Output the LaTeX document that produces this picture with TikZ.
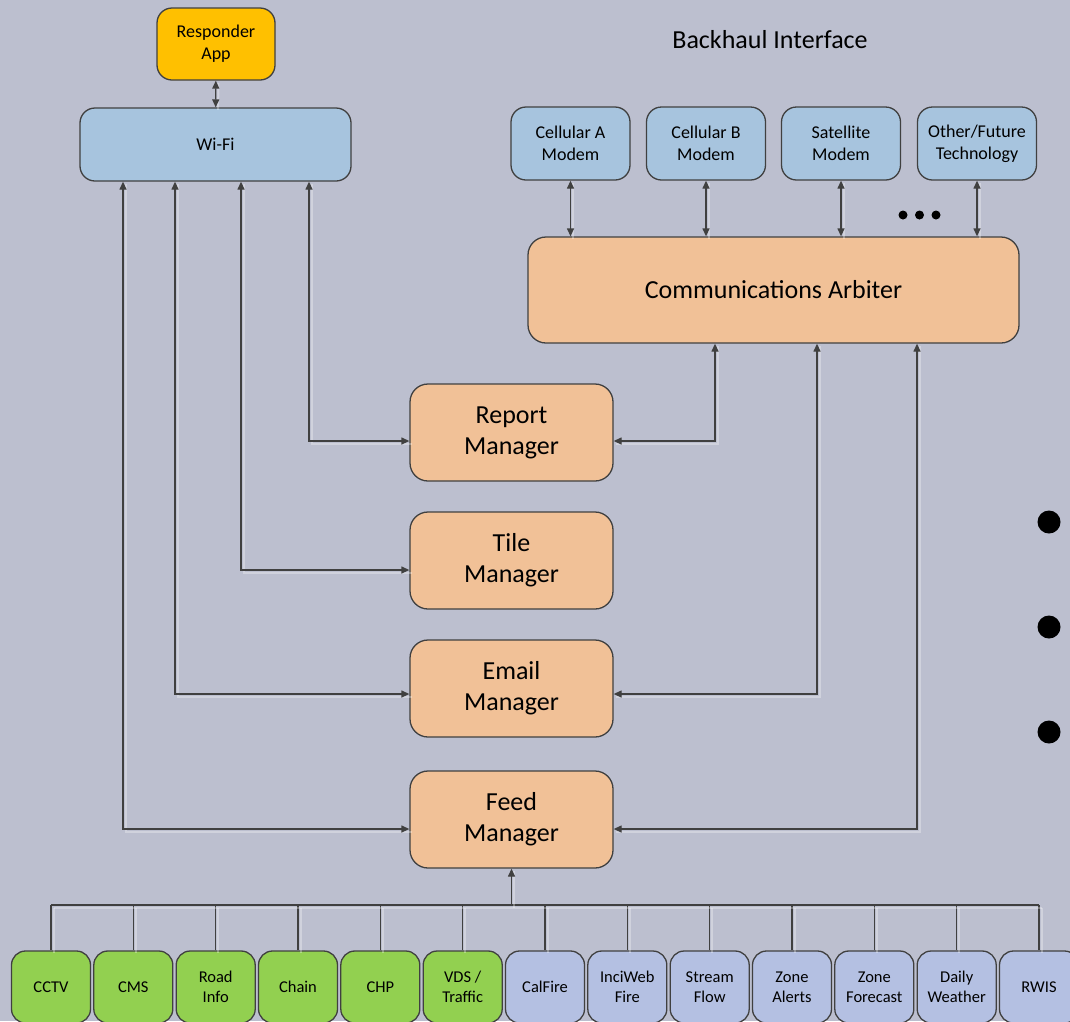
\documentclass[tikz,border=0pt]{standalone}
\usepackage{fontspec}
\setmainfont{Carlito}
\usetikzlibrary{arrows.meta}
\definecolor{bgc}{RGB}{188,191,207}
\definecolor{edgec}{RGB}{64,64,64}
\definecolor{orng}{RGB}{241,193,151}
\definecolor{blu}{RGB}{167,196,222}
\definecolor{grn}{RGB}{146,208,80}
\definecolor{lav}{RGB}{180,192,226}
\definecolor{yel}{RGB}{255,192,0}
\begin{document}
\begin{tikzpicture}[x=1pt,y=-1pt,
  box/.style={draw=edgec, line width=1.3pt, rounded corners=15pt, align=center,
    inner sep=0pt, text=black},
  small/.style={font=\fontsize{18}{22}\selectfont},
  big/.style={font=\fontsize{26}{31}\selectfont},
  tiny/.style={font=\fontsize{16.5}{19.5}\selectfont},
  modem/.style={box, small, fill=blu, minimum width=119pt, minimum height=73pt},
  mgr/.style={box, big, fill=orng, rounded corners=18pt, minimum width=203pt, minimum height=97pt},
  src/.style={box, tiny, rounded corners=14pt, minimum width=79pt, minimum height=72pt},
  conn/.style={draw=edgec, line width=1.3pt,
    arrows={Triangle[length=8pt,width=7pt]-Triangle[length=8pt,width=7pt]},
    preaction={draw=white, opacity=0.3, line width=2pt, arrows=-,
      transform canvas={xshift=2.5pt,yshift=-2.5pt}}},
  busline/.style={draw=edgec, line width=1.3pt,
    preaction={draw=white, opacity=0.3, line width=2pt,
      transform canvas={xshift=2.5pt,yshift=-2.5pt}}},
  bullet/.style={fill=black, draw=none}]
\useasboundingbox (0,0) rectangle (1070,1021);
\clip (0,0) rectangle (1070,1021);
\fill[bgc] (0,0) rectangle (1070,1021);

% wireless side
\node[box, small, fill=yel, minimum width=118pt, minimum height=72pt] (app) at (216,44) {Responder\\App};
\node[box, small, fill=blu, minimum width=271pt, minimum height=73pt] (wifi) at (215.5,144.5) {Wi-Fi};

% backhaul side
\node[font=\fontsize{26}{31}\selectfont] (backhaul) at (770,40) {Backhaul Interface};
\node[modem] (cella) at (570.5,143.5) {Cellular A\\Modem};
\node[modem] (cellb) at (706,143.5) {Cellular B\\Modem};
\node[modem] (sat) at (841,143.5) {Satellite\\Modem};
\node[modem] (other) at (977,143.5) {Other/Future\\Technology};
\node[box, big, fill=orng, rounded corners=18pt, minimum width=491pt, minimum height=106pt] (arb) at (773.5,290) {Communications Arbiter};

% managers
\node[mgr] (report) at (511.5,432.5) {Report\\Manager};
\node[mgr] (tile) at (511.5,560.5) {Tile\\Manager};
\node[mgr] (email) at (511.5,688.5) {Email\\Manager};
\node[mgr] (feed) at (511.5,819.5) {Feed\\Manager};

% data sources
\node[src, fill=grn] (s1) at (51,987) {CCTV};
\node[src, fill=grn] (s2) at (133.3,987) {CMS};
\node[src, fill=grn] (s3) at (215.7,987) {Road\\Info};
\node[src, fill=grn] (s4) at (298,987) {Chain};
\node[src, fill=grn] (s5) at (380.3,987) {CHP};
\node[src, fill=grn] (s6) at (462.7,987) {VDS /\\Traffic};
\node[src, fill=lav] (s7) at (545,987) {CalFire};
\node[src, fill=lav] (s8) at (627.3,987) {InciWeb\\Fire};
\node[src, fill=lav] (s9) at (709.7,987) {Stream\\Flow};
\node[src, fill=lav] (s10) at (792,987) {Zone\\Alerts};
\node[src, fill=lav] (s11) at (874.3,987) {Zone\\Forecast};
\node[src, fill=lav] (s12) at (956.7,987) {Daily\\Weather};
\node[src, fill=lav] (s13) at (1039,987) {RWIS};

% app to Wi-Fi
\path[conn] (app) -- (wifi);

% modems to arbiter
\foreach \m in {cella,cellb,sat,other}
  \path[conn] (\m.south) -- (\m.south |- arb.north);
\fill[bullet] (903,215) circle (4.5);
\fill[bullet] (919.5,215) circle (4.5);
\fill[bullet] (936,215) circle (4.5);

% Wi-Fi to managers
\path[conn] ([xshift=93.5pt]wifi.south) |- ([yshift=-8.5pt]report.west);
\path[conn] ([xshift=25.5pt]wifi.south) |- ([yshift=-9.5pt]tile.west);
\path[conn] ([xshift=-40.5pt]wifi.south) |- ([yshift=-5.5pt]email.west);
\path[conn] ([xshift=-92.5pt]wifi.south) |- ([yshift=-9.5pt]feed.west);

% arbiter to managers
\path[conn] ([yshift=-8.5pt]report.east) -| ([xshift=-58.5pt]arb.south);
\path[conn] ([yshift=-5.5pt]email.east) -| ([xshift=43.5pt]arb.south);
\path[conn] ([yshift=-9.5pt]feed.east) -| ([xshift=143.5pt]arb.south);

% source bus into the feed manager
\coordinate (busy) at (0,905);
\foreach \i in {1,...,13}
  \path[busline] (s\i.north) -- (s\i.north |- busy);
\path[busline] (s1.north |- busy) -- (s13.north |- busy);
\path[conn, arrows={-Triangle[length=8pt,width=7pt]}] (feed.south |- busy) -- (feed.south);

% continuation marks
\fill[bullet] (1049,522) circle (11.5);
\fill[bullet] (1049,627) circle (11.5);
\fill[bullet] (1049,732) circle (11.5);
\end{tikzpicture}
\end{document}
